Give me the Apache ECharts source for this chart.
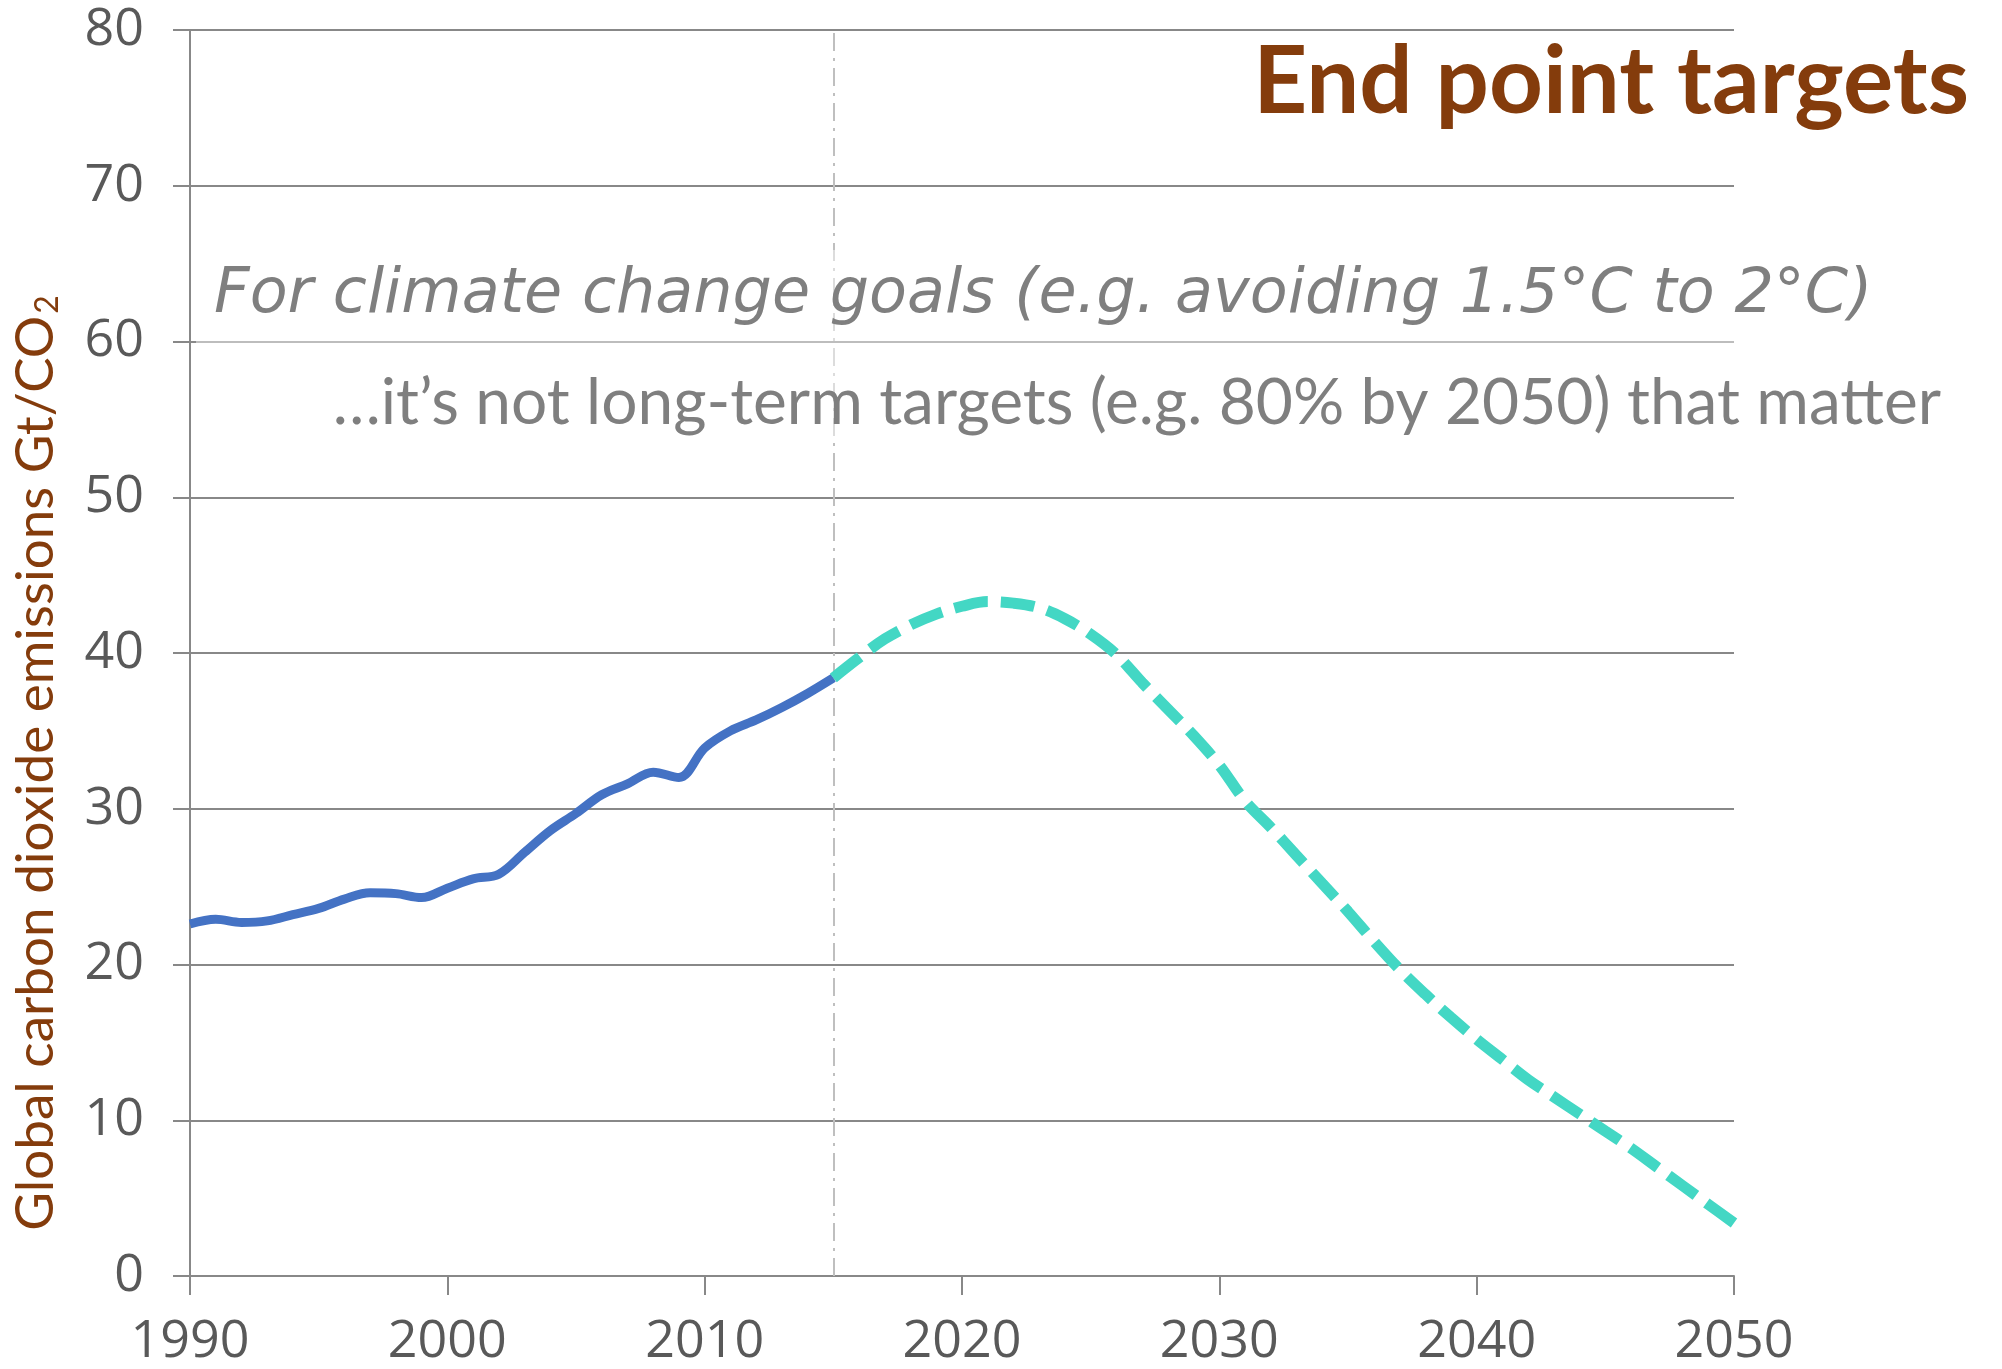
<!DOCTYPE html>
<html>
<head>
<meta charset="utf-8">
<script src="https://cdn.jsdelivr.net/npm/echarts@6/dist/echarts.min.js"></script>
<style>
  html, body { margin: 0; padding: 0; background: #fff; }
  #chart { width: 2002px; height: 1369px; }
</style>
</head>
<body>
<div id="chart"></div>
<script>
// historical emissions, 1990-2015
const histYears = [1990, 1991, 1992, 1993, 1994, 1995, 1996, 1997, 1998, 1999, 2000, 2001, 2002,
  2003, 2004, 2005, 2006, 2007, 2008, 2009, 2010, 2011, 2012, 2013, 2014, 2015];
const histValues = [22.6, 22.9, 22.7, 22.8, 23.2, 23.6, 24.2, 24.6, 24.55, 24.3, 24.9, 25.5, 25.8,
  27.2, 28.6, 29.7, 30.9, 31.6, 32.35, 32.0, 33.9, 35.0, 35.7, 36.5, 37.4, 38.4];

// pathway, 2015-2050
const pathYears = [2015, 2016, 2017, 2018, 2019, 2020, 2021, 2022, 2023, 2024, 2025, 2026, 2027,
  2028, 2029, 2030, 2031, 2032, 2033, 2034, 2035, 2036, 2037, 2038, 2039, 2040, 2041, 2042, 2043,
  2044, 2045, 2046, 2047, 2048, 2049, 2050];
const pathValues = [38.4, 39.7, 40.9, 41.8, 42.5, 43.0, 43.3, 43.2, 42.9, 42.2, 41.2, 39.9, 38.1,
  36.4, 34.7, 32.8, 30.5, 28.8, 27.0, 25.2, 23.4, 21.5, 19.7, 18.1, 16.6, 15.2, 13.9, 12.6, 11.5,
  10.4, 9.3, 8.2, 7.0, 5.8, 4.6, 3.4];

const xTicks = [1990, 2000, 2010, 2020, 2030, 2040, 2050];
const yTicks = [0, 10, 20, 30, 40, 50, 60, 70, 80];
const splitYear = 2015;

const gray = "#888888";
const brown = "#843C0C";

const chart = echarts.init(document.getElementById("chart"));

const option = {
  animation: false,
  backgroundColor: "#fff",
  grid: {
    left: 190,
    right: 268,
    top: 30,
    bottom: 93,
  },
  xAxis: {
    type: "value",
    min: xTicks[0],
    max: xTicks[xTicks.length - 1],
    interval: 10,
    axisLine: { show: true, lineStyle: { color: gray, width: 2 } },
    axisTick: { show: true, length: 19, lineStyle: { color: gray, width: 2 } },
    splitLine: { show: false },
    axisLabel: {
      color: "#595959",
      fontSize: 52,
      fontFamily: "Open Sans",
      margin: 40,
      formatter: (v) => String(v),
    },
  },
  yAxis: {
    type: "value",
    min: yTicks[0],
    max: yTicks[yTicks.length - 1],
    interval: 10,
    axisLine: { show: true, lineStyle: { color: gray, width: 2 } },
    axisTick: { show: true, length: 17, lineStyle: { color: gray, width: 2 } },
    splitLine: { show: true, lineStyle: { color: gray, width: 2 } },
    axisLabel: {
      color: "#595959",
      fontSize: 52,
      fontFamily: "Open Sans",
      margin: 46,
    },
  },
  graphic: [
    {
      // faint white box behind the subtitles
      type: "rect",
      z: 5,
      shape: { x: 196, y: 250, width: 1545, height: 190 },
      style: { fill: "rgba(255,255,255,0.45)" },
    },
    {
      type: "text",
      z: 10,
      x: 1969,
      y: 130,
      style: {
        text: "End point targets",
        fill: brown,
        fontSize: 94,
        fontWeight: "bold",
        fontFamily: "Lato",
        align: "right",
        verticalAlign: "bottom",
      },
    },
    {
      type: "text",
      z: 10,
      x: 214,
      y: 296,
      style: {
        text: "For climate change goals (e.g. avoiding 1.5°C to 2°C)",
        fill: "#7F7F7F",
        fontSize: 62,
        fontStyle: "italic",
        fontFamily: "DejaVu Sans",
        align: "left",
        verticalAlign: "middle",
      },
    },
    {
      type: "text",
      z: 10,
      x: 1941,
      y: 403,
      style: {
        text: "\u2026it\u2019s not long-term targets (e.g. 80% by 2050) that matter",
        fill: "#7F7F7F",
        fontSize: 64,
        fontFamily: "Lato",
        align: "right",
        verticalAlign: "middle",
      },
    },
    {
      type: "text",
      z: 10,
      x: 36,
      y: 763,
      rotation: Math.PI / 2,
      style: {
        text: "Global carbon dioxide emissions Gt/CO{sub|2}",
        fill: brown,
        fontSize: 53,
        fontFamily: "Lato",
        align: "center",
        verticalAlign: "middle",
        rich: {
          sub: {
            fontSize: 32,
            fontFamily: "Lato",
            fill: brown,
            padding: [23, 0, 0, 2],
          },
        },
      },
    },
  ],
  series: [
    {
      name: "history",
      type: "line",
      z: 3,
      data: histYears.map((y, i) => [y, histValues[i]]),
      smooth: 0.35,
      symbol: "none",
      lineStyle: { color: "#4472C4", width: 9 },
      markLine: {
        silent: true,
        symbol: "none",
        label: { show: false },
        z: 1,
        lineStyle: { color: "#BFBFBF", width: 2, type: [18, 7, 3, 7] },
        data: [{ xAxis: splitYear }],
      },
    },
    {
      name: "pathway",
      type: "line",
      z: 4,
      data: pathYears.map((y, i) => [y, pathValues[i]]),
      smooth: 0.35,
      symbol: "none",
      lineStyle: { color: "#43D7C4", width: 11, type: [34, 13] },
    },
  ],
};

chart.setOption(option);
</script>
</body>
</html>
